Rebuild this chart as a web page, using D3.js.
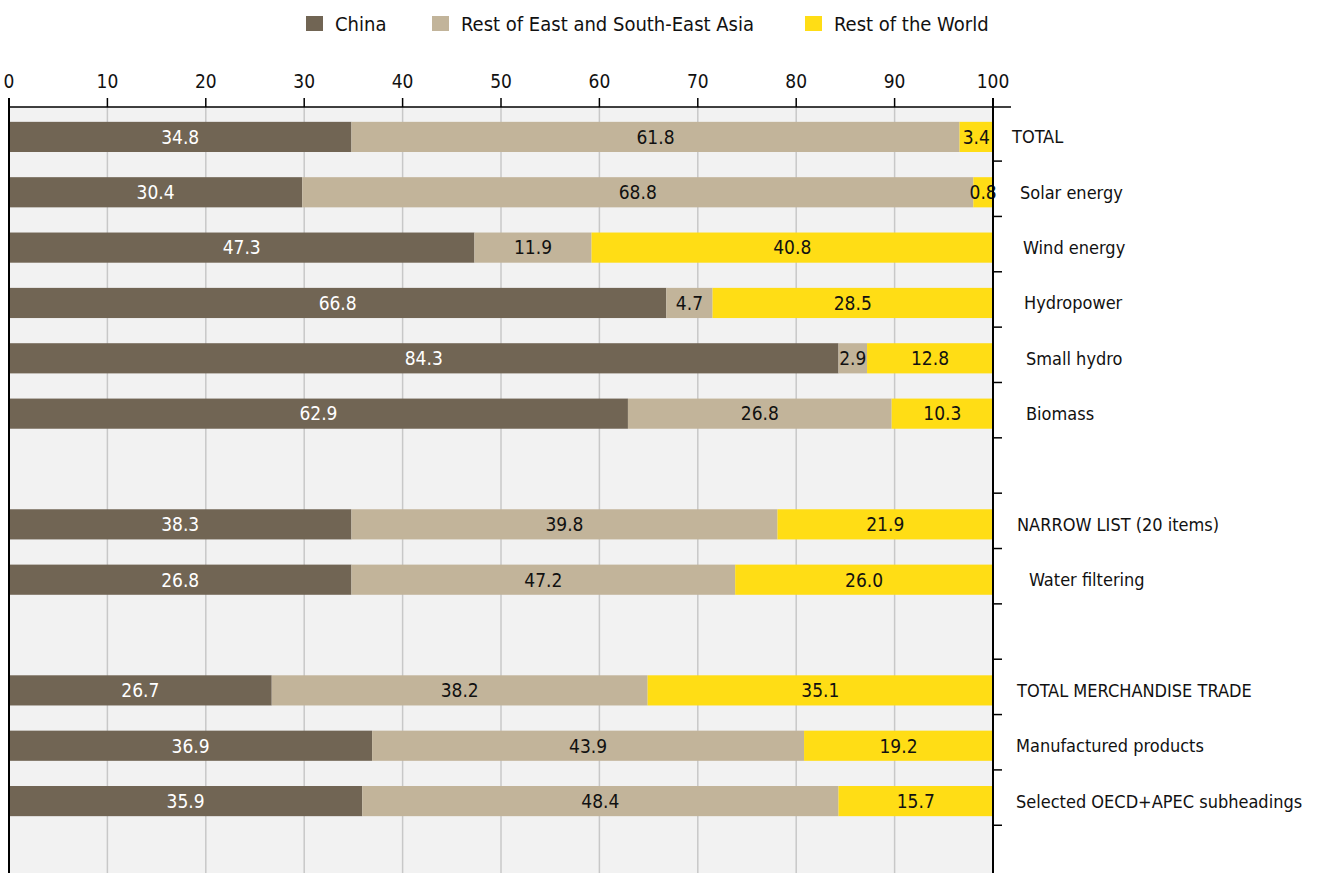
<!DOCTYPE html>
<html>
<head>
<meta charset="utf-8">
<script src="https://cdn.jsdelivr.net/npm/d3@7.9.0/dist/d3.min.js"></script>
<style>
  html, body { margin: 0; padding: 0; background: #fff; }
  svg { display: block; }
  text { font-family: "Liberation Sans Narrow", "DejaVu Sans Condensed", "Arial Narrow", sans-serif; }
</style>
</head>
<body>
<div id="chart"></div>
<script>
// data
const categories = [
  "TOTAL", "Solar energy", "Wind energy", "Hydropower", "Small hydro", "Biomass",
  "", "NARROW LIST (20 items)", "Water filtering",
  "", "TOTAL MERCHANDISE TRADE", "Manufactured products", "Selected OECD+APEC subheadings"
];
const seriesNames = ["China", "Rest of East and South-East Asia", "Rest of the World"];

// drawn segment lengths (as the bars are drawn in the picture)
const chinaValues = [34.8, 29.8, 47.3, 66.8, 84.3, 62.9, null, 34.8, 34.8, null, 26.7, 36.9, 35.9];
const eastAsiaValues = [61.8, 68.2, 11.9, 4.7, 2.9, 26.8, null, 43.3, 39.0, null, 38.2, 43.9, 48.4];
const worldValues = [3.4, 2.0, 40.8, 28.5, 12.8, 10.3, null, 21.9, 26.2, null, 35.1, 19.2, 15.7];

// printed labels (as written on the bars)
const chinaLabels = ["34.8", "30.4", "47.3", "66.8", "84.3", "62.9", "", "38.3", "26.8", "", "26.7", "36.9", "35.9"];
const eastAsiaLabels = ["61.8", "68.8", "11.9", "4.7", "2.9", "26.8", "", "39.8", "47.2", "", "38.2", "43.9", "48.4"];
const worldLabels = ["3.4", "0.8", "40.8", "28.5", "12.8", "10.3", "", "21.9", "26.0", "", "35.1", "19.2", "15.7"];

const xTicks = [0, 10, 20, 30, 40, 50, 60, 70, 80, 90, 100];
const colors = ["#716554", "#c2b49a", "#ffdd15"];
const labelColors = ["#ffffff", "#111111", "#111111"];

const width = 1321, height = 873;
const plotLeft = 9, plotRight = 993, plotTop = 107;

const svg = d3.select("#chart").append("svg")
  .attr("width", width)
  .attr("height", height);

const x = d3.scaleLinear().domain([0, 100]).range([plotLeft, plotRight]);
const y = d3.scaleBand()
  .domain(d3.range(categories.length))
  .range([plotTop + 1, 830])
  .paddingInner(0.455)
  .paddingOuter(0.25);

// plot background
svg.append("rect")
  .attr("x", plotLeft).attr("y", plotTop)
  .attr("width", plotRight - plotLeft).attr("height", height - plotTop)
  .attr("fill", "#f2f2f2");

// gridlines
svg.append("g")
  .selectAll("line")
  .data(xTicks.filter(d => d > 0 && d < 100))
  .join("line")
  .attr("x1", d => x(d)).attr("x2", d => x(d))
  .attr("y1", plotTop).attr("y2", height)
  .attr("stroke", "#c8c8c8")
  .attr("stroke-width", 1.5);

// stacked segments
const rows = categories.map((c, i) => ({
  i,
  vals: [chinaValues[i], eastAsiaValues[i], worldValues[i]],
  labels: [chinaLabels[i], eastAsiaLabels[i], worldLabels[i]]
})).filter(r => r.vals[0] !== null);

const segs = [];
rows.forEach(r => {
  let acc = 0;
  r.vals.forEach((v, k) => {
    segs.push({ i: r.i, k, x0: acc, x1: acc + v, label: r.labels[k] });
    acc += v;
  });
});

const barG = svg.append("g");
barG.selectAll("rect")
  .data(segs)
  .join("rect")
  .attr("x", d => x(d.x0))
  .attr("y", d => y(d.i))
  .attr("width", d => x(Math.min(d.x1, 100)) - x(d.x0))
  .attr("height", y.bandwidth())
  .attr("fill", d => colors[d.k]);

barG.selectAll("text")
  .data(segs)
  .join("text")
  .attr("x", d => (x(d.x0) + x(Math.min(d.x1, 100))) / 2)
  .attr("y", d => y(d.i) + y.bandwidth() / 2)
  .attr("dy", "0.36em")
  .attr("text-anchor", "middle")
  .attr("font-size", 19)
  .attr("fill", d => labelColors[d.k])
  .text(d => d.label);

// top axis
const topAxis = svg.append("g").attr("transform", `translate(0,${plotTop})`);
topAxis.append("line")
  .attr("x1", plotLeft).attr("x2", plotRight + 18)
  .attr("stroke", "#000").attr("stroke-width", 1.5);
topAxis.selectAll(".tick")
  .data(xTicks)
  .join("line")
  .attr("x1", d => x(d)).attr("x2", d => x(d))
  .attr("y1", -9).attr("y2", 0)
  .attr("stroke", "#000").attr("stroke-width", 1.5);
topAxis.selectAll("text")
  .data(xTicks)
  .join("text")
  .attr("x", d => x(d))
  .attr("y", -19)
  .attr("text-anchor", "middle")
  .attr("font-size", 19)
  .attr("fill", "#111")
  .text(d => d);

// left and right axis lines
svg.append("line")
  .attr("x1", plotLeft).attr("x2", plotLeft)
  .attr("y1", plotTop - 9).attr("y2", height)
  .attr("stroke", "#000").attr("stroke-width", 2);
svg.append("line")
  .attr("x1", plotRight).attr("x2", plotRight)
  .attr("y1", plotTop - 9).attr("y2", height)
  .attr("stroke", "#000").attr("stroke-width", 2);

// right-side ticks at row boundaries
svg.append("g")
  .selectAll("line")
  .data(d3.range(1, categories.length + 1))
  .join("line")
  .attr("x1", plotRight).attr("x2", plotRight + 9)
  .attr("y1", i => y(i - 1) + y.bandwidth() + y.step() * y.paddingInner() / 2 - 3.5)
  .attr("y2", i => y(i - 1) + y.bandwidth() + y.step() * y.paddingInner() / 2 - 3.5)
  .attr("stroke", "#000").attr("stroke-width", 1.5);

// category labels (slightly uneven indents as in the original)
const labelIndent = [19, 27, 30, 31, 33, 33, 0, 24, 36, 0, 24, 23, 23];
svg.append("g")
  .selectAll("text")
  .data(categories.map((c, i) => ({ c, i })).filter(d => d.c !== ""))
  .join("text")
  .attr("x", d => plotRight + labelIndent[d.i])
  .attr("y", d => y(d.i) + y.bandwidth() / 2)
  .attr("dy", "0.36em")
  .attr("font-size", 18)
  .attr("fill", "#111")
  .text(d => d.c);

// legend
const legendStarts = [306, 432, 805];
const legend = svg.append("g");
seriesNames.forEach((name, k) => {
  const g = legend.append("g").attr("transform", `translate(${legendStarts[k]},16)`);
  g.append("rect")
    .attr("width", 17).attr("height", 15)
    .attr("fill", colors[k]);
  g.append("text")
    .attr("x", 29).attr("y", 7.5)
    .attr("dy", "0.36em")
    .attr("font-size", 20)
    .attr("fill", "#111")
    .text(name);
});
</script>
</body>
</html>
